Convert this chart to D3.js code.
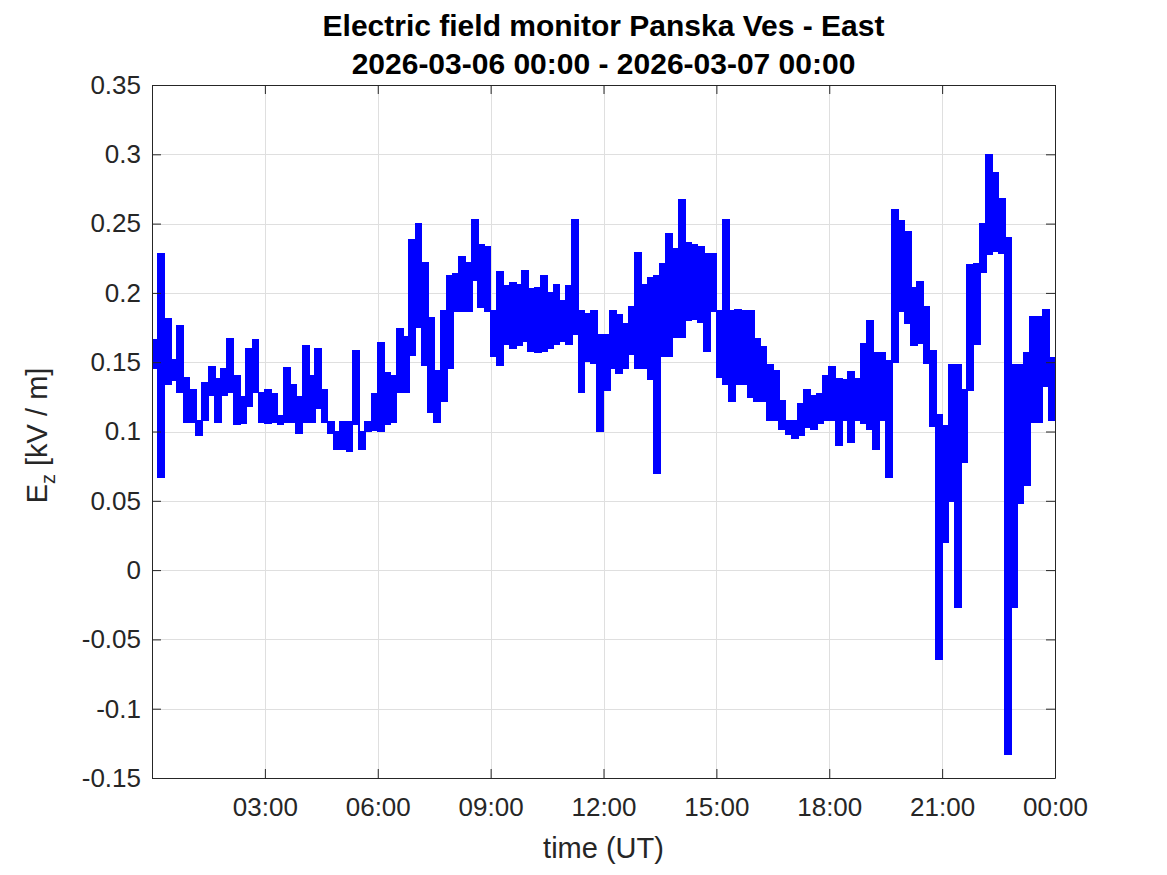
<!DOCTYPE html>
<html><head><meta charset="utf-8">
<script src="https://cdn.jsdelivr.net/npm/d3@7"></script>
<style>
body{margin:0;background:#fff;}
svg{display:block;font-family:"Liberation Sans",Arial,Helvetica,sans-serif;}
</style>
</head><body>
<svg id="chart" width="1167" height="875"></svg>
<script>
// ---- data ----
const titleLines = ["Electric field monitor Panska Ves - East", "2026-03-06 00:00 - 2026-03-07 00:00"];
const xLabel = "time (UT)";
const yTickValues = [0.35, 0.3, 0.25, 0.2, 0.15, 0.1, 0.05, 0, -0.05, -0.1, -0.15];
const yTickLabels = ["0.35", "0.3", "0.25", "0.2", "0.15", "0.1", "0.05", "0", "-0.05", "-0.1", "-0.15"];
const xTickHours = [3, 6, 9, 12, 15, 18, 21, 24];
const xTickLabels = ["03:00", "06:00", "09:00", "12:00", "15:00", "18:00", "21:00", "00:00"];

// 10-minute bins: upper and lower extent of E_z [kV/m] in each bin
const ezHigh = [
0.166,0.228,0.181,0.152,0.176,0.139,0.130,0.108,0.135,0.147,0.138,0.145,0.167,0.140,0.125,0.160,0.166,0.128,
0.130,0.127,0.111,0.146,0.134,0.125,0.162,0.140,0.160,0.130,0.107,0.100,0.107,0.107,0.158,0.100,0.107,0.127,
0.164,0.142,0.140,0.174,0.168,0.238,0.250,0.222,0.182,0.144,0.187,0.212,0.214,0.226,0.222,0.253,0.235,0.233,
0.187,0.215,0.205,0.207,0.206,0.216,0.203,0.204,0.212,0.200,0.206,0.194,0.205,0.253,0.187,0.185,0.187,0.170,
0.170,0.187,0.184,0.178,0.190,0.229,0.206,0.211,0.212,0.221,0.243,0.232,0.267,0.236,0.235,0.233,0.228,0.228,
0.187,0.253,0.187,0.188,0.187,0.187,0.167,0.161,0.148,0.144,0.122,0.108,0.108,0.120,0.130,0.126,0.127,0.140,
0.147,0.138,0.137,0.143,0.138,0.163,0.180,0.157,0.157,0.151,0.260,0.252,0.244,0.204,0.208,0.190,0.158,0.112,
0.104,0.148,0.148,0.130,0.220,0.221,0.250,0.300,0.287,0.268,0.240,0.148,0.148,0.157,0.183,0.183,0.188,0.153
];
const ezLow = [
0.146,0.067,0.134,0.137,0.128,0.107,0.107,0.097,0.108,0.126,0.107,0.126,0.128,0.105,0.106,0.118,0.128,0.107,
0.106,0.107,0.105,0.107,0.107,0.099,0.107,0.107,0.117,0.107,0.099,0.087,0.087,0.086,0.105,0.087,0.100,0.101,
0.100,0.105,0.107,0.128,0.128,0.155,0.175,0.148,0.114,0.107,0.122,0.146,0.187,0.187,0.187,0.209,0.190,0.187,
0.154,0.148,0.163,0.160,0.162,0.165,0.158,0.157,0.158,0.160,0.163,0.165,0.163,0.170,0.128,0.151,0.149,0.100,
0.130,0.146,0.142,0.146,0.156,0.146,0.146,0.138,0.070,0.154,0.154,0.168,0.168,0.180,0.181,0.179,0.158,0.187,
0.139,0.134,0.122,0.134,0.134,0.125,0.122,0.122,0.108,0.108,0.102,0.098,0.095,0.097,0.103,0.102,0.106,0.108,
0.108,0.090,0.108,0.092,0.108,0.106,0.102,0.087,0.108,0.067,0.150,0.187,0.178,0.162,0.164,0.149,0.104,-0.064,
0.020,0.050,-0.027,0.078,0.130,0.163,0.215,0.228,0.230,0.229,-0.133,-0.027,0.048,0.061,0.107,0.107,0.133,0.108
];

// ---- layout ----
const plot = {left: 152, top: 85, right: 1055, bottom: 778};
const textColor = "#262626";
const svg = d3.select("#chart");

const t0 = new Date(Date.UTC(2026, 2, 6, 0, 0));
const t1 = new Date(Date.UTC(2026, 2, 7, 0, 0));
const hourMs = 3600 * 1000;
const binMs = 10 * 60 * 1000;

const x = d3.scaleUtc().domain([t0, t1]).range([plot.left, plot.right]);
const y = d3.scaleLinear().domain([-0.15, 0.35]).range([plot.bottom, plot.top]);

// one record per 10-minute bin (start time, lower, upper); the last one is repeated at the end time to close the step
const bins = ezHigh.map((hi, i) => ({t: new Date(t0.getTime() + i * binMs), lo: ezLow[i], hi}));
bins.push({t: t1, lo: ezLow[ezLow.length - 1], hi: ezHigh[ezHigh.length - 1]});

const xTickDates = xTickHours.map(h => new Date(t0.getTime() + h * hourMs));

// grid
const grid = svg.append("g").attr("stroke", "#dfdfdf").attr("stroke-width", 1);
grid.selectAll("line.gx").data(xTickDates.filter(d => d < t1)).join("line")
  .attr("x1", d => Math.round(x(d)) + 0.5).attr("x2", d => Math.round(x(d)) + 0.5)
  .attr("y1", plot.top).attr("y2", plot.bottom);
grid.selectAll("line.gy").data(yTickValues.filter(v => v < 0.35 && v > -0.15)).join("line")
  .attr("y1", d => Math.round(y(d)) + 0.5).attr("y2", d => Math.round(y(d)) + 0.5)
  .attr("x1", plot.left).attr("x2", plot.right);

// data trace (dense signal drawn as its per-bin extent)
const clipId = "plotclip";
svg.append("clipPath").attr("id", clipId).append("rect")
  .attr("x", plot.left).attr("y", plot.top)
  .attr("width", plot.right - plot.left).attr("height", plot.bottom - plot.top);

svg.append("path")
  .datum(bins)
  .attr("clip-path", `url(#${clipId})`)
  .attr("fill", "#0000ff")
  .attr("stroke", "#0000ff")
  .attr("stroke-width", 1.6)
  .attr("stroke-linejoin", "miter")
  .attr("shape-rendering", "crispEdges")
  .attr("d", d3.area().curve(d3.curveStepAfter)
    .x(d => x(d.t)).y0(d => y(d.lo)).y1(d => y(d.hi)));

// axes
const fmtX = d => xTickLabels[xTickDates.findIndex(e => e.getTime() === d.getTime())];
const fmtY = d => yTickLabels[yTickValues.indexOf(d)];

function styleAxis(g) {
  g.select(".domain").attr("stroke", textColor);
  g.selectAll(".tick line").attr("stroke", textColor);
  g.selectAll(".tick text").attr("fill", textColor).style("font-size", "26px")
    .style("font-family", '"Liberation Sans",Arial,Helvetica,sans-serif');
}

svg.append("g").attr("transform", `translate(0,${plot.bottom})`)
  .call(d3.axisBottom(x).tickValues(xTickDates).tickFormat(fmtX).tickSize(-9).tickSizeOuter(0).tickPadding(20))
  .call(styleAxis);
svg.append("g").attr("transform", `translate(0,${plot.top})`)
  .call(d3.axisTop(x).tickValues(xTickDates).tickFormat("").tickSize(-9).tickSizeOuter(0))
  .call(styleAxis);
svg.append("g").attr("transform", `translate(${plot.left},0)`)
  .call(d3.axisLeft(y).tickValues(yTickValues).tickFormat(fmtY).tickSize(-9).tickSizeOuter(0).tickPadding(11))
  .call(styleAxis);
svg.append("g").attr("transform", `translate(${plot.right},0)`)
  .call(d3.axisRight(y).tickValues(yTickValues).tickFormat("").tickSize(-9).tickSizeOuter(0))
  .call(styleAxis);

// titles
svg.append("g").selectAll("text").data(titleLines).join("text")
  .attr("x", (plot.left + plot.right) / 2)
  .attr("y", (d, i) => 36 + i * 38)
  .attr("text-anchor", "middle")
  .attr("font-weight", "bold")
  .attr("font-size", 30)
  .attr("fill", "#000")
  .text(d => d);

svg.append("text")
  .attr("x", (plot.left + plot.right) / 2).attr("y", 858)
  .attr("text-anchor", "middle").attr("font-size", 29).attr("fill", textColor)
  .text(xLabel);

const yl = svg.append("text")
  .attr("transform", `translate(47,${(plot.top + plot.bottom) / 2 + 4}) rotate(-90)`)
  .attr("text-anchor", "middle").attr("font-size", 29).attr("fill", textColor);
yl.append("tspan").text("E");
yl.append("tspan").attr("font-size", 20).attr("dy", 8).text("z");
yl.append("tspan").attr("dy", -8).text(" [kV / m]");
</script>
</body></html>
